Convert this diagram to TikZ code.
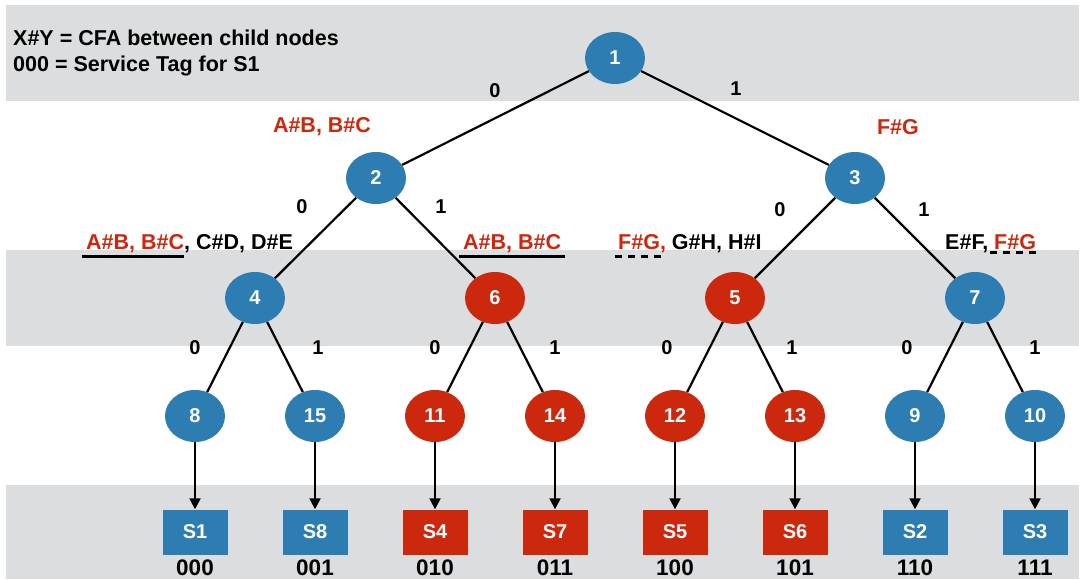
\documentclass[tikz,border=0pt]{standalone}
\usepackage{fontspec}
\setmainfont{Liberation Sans}
\usetikzlibrary{shapes.geometric,arrows.meta}
\definecolor{nblue}{RGB}{46,125,178}
\definecolor{nred}{RGB}{204,40,14}
\definecolor{band}{RGB}{220,221,223}
\begin{document}
\begin{tikzpicture}[x=1pt,y=-1pt,
  tn/.style={ellipse,minimum width=60pt,minimum height=52pt,inner sep=0pt,text=white,font=\bfseries\fontsize{20}{22}\selectfont},
  bn/.style={tn,fill=nblue},
  rn/.style={tn,fill=nred},
  sbox/.style={rectangle,minimum width=65pt,minimum height=45pt,inner sep=0pt,text=white,font=\bfseries\fontsize{20}{22}\selectfont},
  bs/.style={sbox,fill=nblue},
  rs/.style={sbox,fill=nred},
  edge/.style={line width=2.2pt,black},
  arr/.style={line width=2.2pt,black,-{Triangle[length=11pt,width=11pt]}},
  el/.style={font=\bfseries\fontsize{20}{22}\selectfont,inner sep=0pt},
  code/.style={font=\bfseries\fontsize{22.5}{24}\selectfont,inner sep=0pt},
  cfa/.style={font=\bfseries\fontsize{21.5}{24}\selectfont,inner sep=0pt},
  ul/.style={line width=3pt,black},
  dul/.style={line width=3pt,black,dash pattern=on 7pt off 6pt},
]
\useasboundingbox (0,0) rectangle (1081,579);
\fill[white] (0,0) rectangle (1081,579);
\fill[band] (6,5) rectangle (1079,101);
\fill[band] (6,250) rectangle (1079,346);
\fill[band] (6,485) rectangle (1079,579);

% legend
\node[anchor=west,font=\bfseries\fontsize{21.5}{24}\selectfont,inner sep=0pt] (leg1) at (13,38) {X\#Y = CFA between child nodes};
\node[anchor=west,font=\bfseries\fontsize{21.5}{24}\selectfont,inner sep=0pt] (leg2) at (13,66) {000 = Service Tag for S1};

% tree nodes
\node[bn] (n1) at (615,58) {1};
\node[bn] (n2) at (376,178) {2};
\node[bn] (n3) at (855,178) {3};
\node[bn] (n4) at (255,298) {4};
\node[rn] (n6) at (495,298) {6};
\node[rn] (n5) at (735,298) {5};
\node[bn] (n7) at (975,298) {7};
\node[bn] (n8) at (195,416) {8};
\node[bn] (n15) at (315,416) {15};
\node[rn] (n11) at (435,416) {11};
\node[rn] (n14) at (555,416) {14};
\node[rn] (n12) at (675,416) {12};
\node[rn] (n13) at (795,416) {13};
\node[bn] (n9) at (915,416) {9};
\node[bn] (n10) at (1035,416) {10};

% service boxes
\node[bs] (s1) at (195,532) {S1};
\node[bs] (s8) at (315,532) {S8};
\node[rs] (s4) at (435,532) {S4};
\node[rs] (s7) at (555,532) {S7};
\node[rs] (s5) at (675,532) {S5};
\node[rs] (s6) at (795,532) {S6};
\node[bs] (s2) at (915,532) {S2};
\node[bs] (s3) at (1035,532) {S3};

% codes
\node[code] (c1) at (195,568) {000};
\node[code] (c2) at (315,568) {001};
\node[code] (c3) at (435,568) {010};
\node[code] (c4) at (555,568) {011};
\node[code] (c5) at (675,568) {100};
\node[code] (c6) at (795,568) {101};
\node[code] (c7) at (915,568) {110};
\node[code] (c8) at (1035,568) {111};

% edges
\draw[edge] (n1) -- (n2);
\draw[edge] (n1) -- (n3);
\draw[edge] (n2) -- (n4);
\draw[edge] (n2) -- (n6);
\draw[edge] (n3) -- (n5);
\draw[edge] (n3) -- (n7);
\draw[edge] (n4) -- (n8);
\draw[edge] (n4) -- (n15);
\draw[edge] (n6) -- (n11);
\draw[edge] (n6) -- (n14);
\draw[edge] (n5) -- (n12);
\draw[edge] (n5) -- (n13);
\draw[edge] (n7) -- (n9);
\draw[edge] (n7) -- (n10);
\foreach \a/\b in {n8/s1,n15/s8,n11/s4,n14/s7,n12/s5,n13/s6,n9/s2,n10/s3}
  \draw[arr] (\a) -- (\b);

% edge labels
\node[el] (l1) at (495,91) {0};
\node[el] (l2) at (736,89) {1};
\node[el] (l3) at (302,207) {0};
\node[el] (l4) at (441,207) {1};
\node[el] (l5) at (780,210) {0};
\node[el] (l6) at (924,210) {1};
\node[el] (l7) at (195,348) {0};
\node[el] (l8) at (318,348) {1};
\node[el] (l9) at (435,348) {0};
\node[el] (l10) at (555,348) {1};
\node[el] (l11) at (667,348) {0};
\node[el] (l12) at (792,348) {1};
\node[el] (l13) at (907,348) {0};
\node[el] (l14) at (1035,348) {1};

% CFA labels
\node[cfa,text=nred] (f2) at (322,127) {A\#B, B\#C};
\node[cfa,text=nred] (f3) at (898,127) {F\#G};
\node[cfa,anchor=west] (f4) at (86,244) {\textcolor{nred}{A\#B, B\#C}, C\#D, D\#E};
\node[cfa,text=nred,anchor=west] (f6) at (463,244) {A\#B, B\#C};
\node[cfa,anchor=west] (f5) at (618,244) {\textcolor{nred}{F\#G,} G\#H, H\#I};
\node[cfa,anchor=west] (f7) at (945,244) {E\#F, \textcolor{nred}{F\#G}};

\coordinate (u1a) at (82,256); \coordinate (u1b) at (184,256);
\coordinate (u2a) at (459,256); \coordinate (u2b) at (565,256);
\coordinate (u3a) at (615,256); \coordinate (u3b) at (666,256);
\coordinate (u4a) at (990,252); \coordinate (u4b) at (1041,252);
\draw[ul] (u1a) -- (u1b);
\draw[ul] (u2a) -- (u2b);
\draw[dul] (u3a) -- (u3b);
\draw[dul] (u4a) -- (u4b);
\end{tikzpicture}
\end{document}
